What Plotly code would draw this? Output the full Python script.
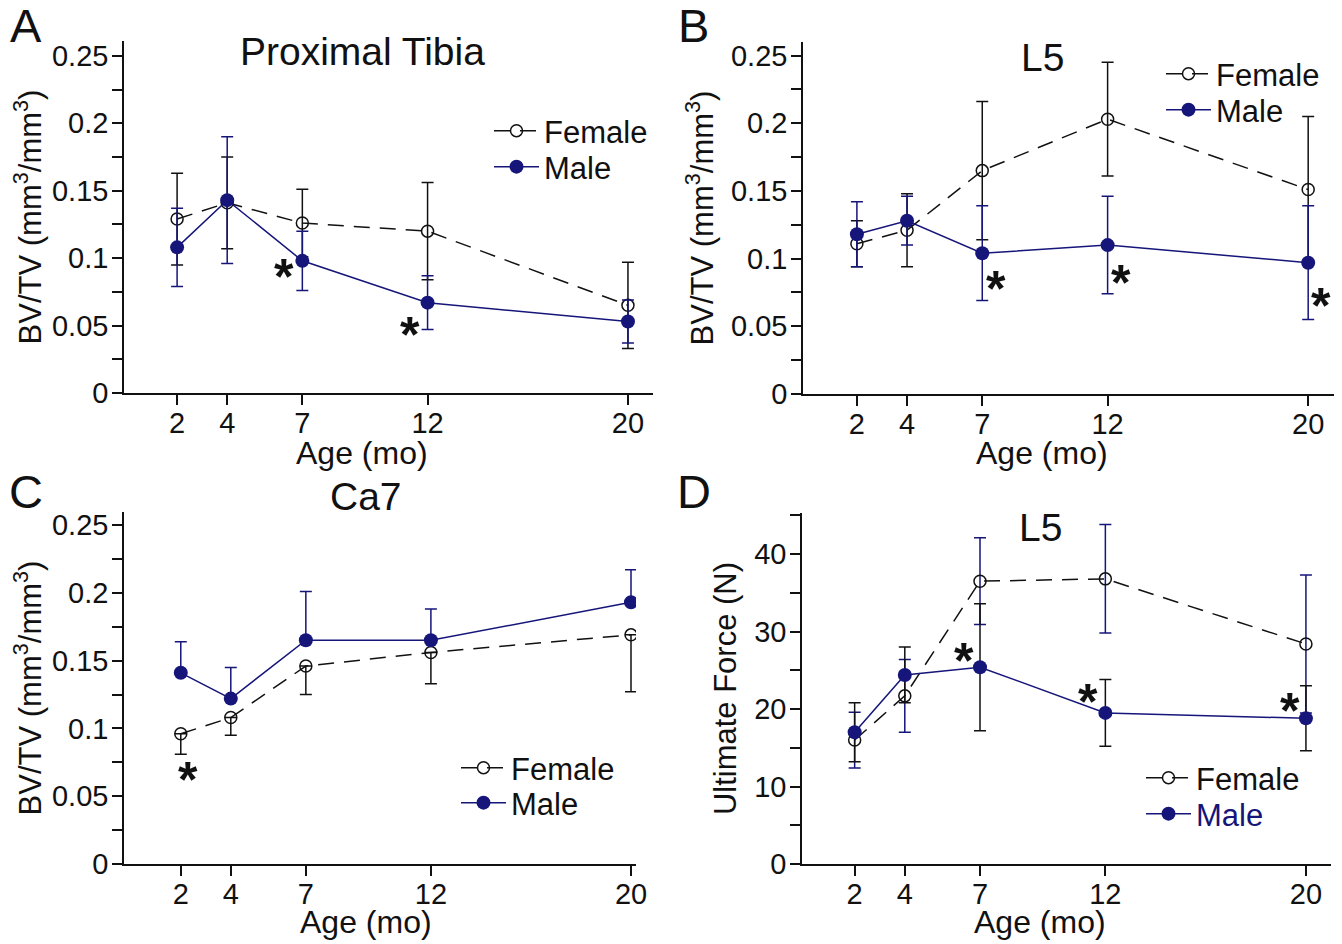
import plotly.graph_objects as go

FONT = "Liberation Sans, Arial, sans-serif"
NAVY = "#15157a"
BLACK = "#111111"

ages = [2, 4, 7, 12, 20]
age_ticks = ["2", "4", "7", "12", "20"]

# Panel A: Proximal Tibia BV/TV
a_female = [0.129, 0.141, 0.126, 0.120, 0.065]
a_female_err = [0.034, 0.034, 0.025, 0.036, 0.032]
a_male = [0.108, 0.143, 0.098, 0.067, 0.053]
a_male_err = [0.029, 0.047, 0.022, 0.020, 0.016]
a_stars_x = [6.25, 11.3]
a_stars_y = [0.091, 0.048]

# Panel B: L5 BV/TV
b_female = [0.111, 0.121, 0.165, 0.203, 0.151]
b_female_err = [0.017, 0.027, 0.051, 0.042, 0.054]
b_male = [0.118, 0.128, 0.104, 0.110, 0.097]
b_male_err = [0.024, 0.018, 0.035, 0.036, 0.042]
b_stars_x = [7.55, 12.55, 20.5]
b_stars_y = [0.082, 0.087, 0.070]

# Panel C: Ca7 BV/TV (female: lower bars, male: upper bars)
c_female = [0.096, 0.108, 0.146, 0.156, 0.169]
c_female_err = [0.015, 0.013, 0.021, 0.023, 0.042]
c_male = [0.141, 0.122, 0.165, 0.165, 0.193]
c_male_err = [0.023, 0.023, 0.036, 0.023, 0.024]
c_stars_x = [2.3]
c_stars_y = [0.067]

# Panel D: L5 ultimate force (N)
d_female = [16.0, 21.7, 36.5, 36.8, 28.4]
d_female_err = [3.6, 4.7, 5.6, 7.0, 8.9]
d_male = [17.0, 24.4, 25.4, 19.5, 18.8]
d_male_err = [3.8, 3.6, 8.2, 4.3, 4.2]
d_stars_x = [6.35, 11.3, 19.36]
d_stars_y = [27.0, 21.8, 20.6]

W, H = 1342, 944
OFF = 8  # page body margin


def px(x):
    return (x - OFF) / W


def py(y):
    return 1 - (y - OFF) / H


panels = [
    dict(key="", letter="A", title="Proximal Tibia", ytitle="BV/TV (mm<sup>3</sup>/mm<sup>3</sup>)",
         xdom=[px(124), px(653)], ydom=[py(393), py(41)], xr=[-0.12, 21.0], yr=[0, 0.261],
         dtick=0.05, minor=0.025,
         f=a_female, fe=a_female_err, m=a_male, me=a_male_err, sx=a_stars_x, sy=a_stars_y,
         fcol=BLACK, mcol=NAVY, fsym="both", msym="both",
         title_y=0.969, xtitle_y=453, leg_x=545, leg_y=(131, 167), male_text_color=BLACK),
    dict(key="2", letter="B", title="L5", ytitle="BV/TV (mm<sup>3</sup>/mm<sup>3</sup>)",
         xdom=[px(803), px(1334)], ydom=[py(394), py(42)], xr=[-0.15, 21.03], yr=[0, 0.26],
         dtick=0.05, minor=0.025,
         f=b_female, fe=b_female_err, m=b_male, me=b_male_err, sx=b_stars_x, sy=b_stars_y,
         fcol=BLACK, mcol=NAVY, fsym="both", msym="both",
         title_y=0.955, xtitle_y=453, leg_x=1217, leg_y=(74, 110), male_text_color=BLACK),
    dict(key="3", letter="C", title="Ca7", ytitle="BV/TV (mm<sup>3</sup>/mm<sup>3</sup>)",
         xdom=[px(124), px(636)], ydom=[py(864), py(512)], xr=[-0.27, 20.2], yr=[0, 0.2596],
         dtick=0.05, minor=0.025,
         f=c_female, fe=c_female_err, m=c_male, me=c_male_err, sx=c_stars_x, sy=c_stars_y,
         fcol=BLACK, mcol=NAVY, fsym="minus", msym="plus",
         title_y=1.045, xtitle_y=922, leg_x=512, leg_y=(768, 803), male_text_color=BLACK),
    dict(key="4", letter="D", title="L5", ytitle="Ultimate Force (N)",
         xdom=[px(802), px(1331)], ydom=[py(864), py(513)], xr=[-0.1, 21.0], yr=[0, 45.3],
         dtick=10, minor=5,
         f=d_female, fe=d_female_err, m=d_male, me=d_male_err, sx=d_stars_x, sy=d_stars_y,
         fcol=NAVY, mcol=BLACK, fsym="both", msym="both",
         title_y=0.96, xtitle_y=922, leg_x=1197, leg_y=(778, 814), male_text_color=NAVY),
]

fig = go.Figure()
annotations = []
layout = dict()
LEG_TEXT_OFFSET = 56  # legend left edge -> item text start (px)
STAR_SIZE = 50
TITLE_X = 9.4  # panel titles / x titles sit left of the axis centre, as in the original


def err(vals, mode, color):
    d = dict(type="data", color=color, thickness=1.5, width=6, visible=True)
    if mode == "both":
        d.update(array=vals, symmetric=True)
    elif mode == "plus":
        d.update(array=vals, arrayminus=[0] * len(vals), symmetric=False)
    else:
        d.update(array=[0] * len(vals), arrayminus=vals, symmetric=False)
    return d


for i, p in enumerate(panels):
    k = p["key"]
    xa, ya = "x" + k, "y" + k
    leg_f = "legend" + str(2 * i + 1 if i else "")
    leg_m = "legend" + str(2 * i + 2)

    fig.add_trace(go.Scatter(
        x=ages, y=p["f"], name="Female", mode="lines+markers",
        line=dict(color=BLACK, width=1.5, dash="16px,10px"),
        marker=dict(symbol="circle-open", size=12, color=BLACK, line=dict(width=1.5, color=BLACK)),
        error_y=err(p["fe"], p["fsym"], p["fcol"]),
        xaxis=xa, yaxis=ya, legend=leg_f, showlegend=True,
    ))
    male_name = "Male" if p["male_text_color"] == BLACK else f"<span style='color:{NAVY}'>Male</span>"
    fig.add_trace(go.Scatter(
        x=ages, y=p["m"], name=male_name, mode="lines+markers",
        line=dict(color=NAVY, width=1.5),
        marker=dict(symbol="circle", size=14, color=NAVY),
        error_y=err(p["me"], p["msym"], p["mcol"]),
        xaxis=xa, yaxis=ya, legend=leg_m, showlegend=True,
    ))

    axis_common = dict(showline=True, linecolor=BLACK, linewidth=1.5, showgrid=False, zeroline=False,
                       ticks="outside", tickcolor=BLACK, tickwidth=1.5, ticklen=10,
                       tickfont=dict(family=FONT, size=29, color=BLACK), automargin=False)
    layout["xaxis" + k] = dict(axis_common, domain=p["xdom"], range=p["xr"], anchor=ya,
                               tickmode="array", tickvals=ages, ticktext=age_ticks,
                               ticklabelstandoff=-7)
    layout["yaxis" + k] = dict(axis_common, domain=p["ydom"], range=p["yr"], anchor=xa,
                               tickmode="linear", tick0=0, dtick=p["dtick"], ticklabelstandoff=-2,
                               minor=dict(dtick=p["minor"], ticks="outside", ticklen=10, tickcolor=BLACK,
                                          tickwidth=1.5, showgrid=False),
                               title=dict(text=p["ytitle"], font=dict(family=FONT, size=31, color=BLACK), standoff=8))
    for leg, yy in ((leg_f, p["leg_y"][0]), (leg_m, p["leg_y"][1])):
        layout[leg] = dict(x=px(p["leg_x"] - LEG_TEXT_OFFSET), y=py(yy), xanchor="left", yanchor="middle",
                           bgcolor="rgba(0,0,0,0)", borderwidth=0, itemwidth=45,
                           font=dict(family=FONT, size=31, color=BLACK), tracegroupgap=0, itemclick=False)

    annotations.append(dict(text=p["title"], xref=xa, x=TITLE_X, yref=ya + " domain", y=p["title_y"],
                            showarrow=False, font=dict(family=FONT, size=39, color=BLACK),
                            xanchor="center", yanchor="middle"))
    annotations.append(dict(text="Age (mo)", xref=xa, x=TITLE_X, yref="paper", y=py(p["xtitle_y"]),
                            showarrow=False, font=dict(family=FONT, size=32, color=BLACK),
                            xanchor="center", yanchor="middle"))
    for sx, sy in zip(p["sx"], p["sy"]):
        annotations.append(dict(text="<b>*</b>", xref=xa, x=sx, yref=ya, y=sy, showarrow=False,
                                font=dict(family=FONT, size=STAR_SIZE, color=BLACK),
                                xanchor="center", yanchor="middle", yshift=-0.13 * STAR_SIZE))

letters = [("A", 26, 25), ("B", 694, 25), ("C", 26, 491), ("D", 694, 491)]
for t, lx, ly in letters:
    annotations.append(dict(text=t, xref="paper", yref="paper", x=px(lx), y=py(ly),
                            showarrow=False, font=dict(family=FONT, size=47, color=BLACK),
                            xanchor="center", yanchor="middle"))

fig.update_layout(**layout)
fig.update_layout(
    width=W, height=H, margin=dict(l=0, r=0, t=0, b=0),
    paper_bgcolor="white", plot_bgcolor="white",
    annotations=annotations, showlegend=True,
)

fig.write_html("out.html")
